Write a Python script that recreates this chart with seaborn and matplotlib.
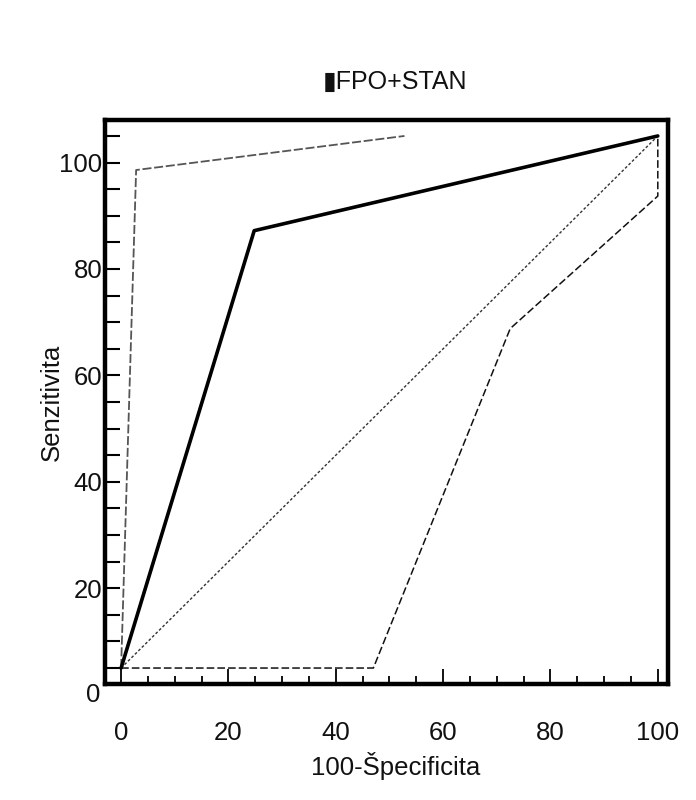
import numpy as np
import pandas as pd
import matplotlib
matplotlib.use("Agg")
import matplotlib.pyplot as plt
import matplotlib.transforms as mtransforms
from matplotlib.ticker import FixedLocator, MultipleLocator
import seaborn as sns

# ---- data ----
roc_x = [0, 24.8, 100]
roc_y = [5, 87.2, 105]
upper_x = [0, 2.8, 52.8]
upper_y = [5, 98.6, 105]
lower_x = [0, 47, 72.5, 100, 100]
lower_y = [5, 5, 68.8, 93.7, 105]
diag_x = [0, 100]
diag_y = [5, 105]
x_ticks = [0, 20, 40, 60, 80, 100]
y_ticks = [20, 40, 60, 80, 100]
title = "\u25aeFPO+STAN"
x_label = "100-Špecificita"
y_label = "Senzitivita"

sns.set_style("white")
plt.rcParams["font.family"] = ["Liberation Sans", "DejaVu Sans"]
plt.rcParams["text.color"] = "#111111"
plt.rcParams["axes.labelcolor"] = "#111111"
plt.rcParams["xtick.color"] = "#111111"
plt.rcParams["ytick.color"] = "#111111"

fig = plt.figure(figsize=(6.96, 8.0), dpi=100)
ax = fig.add_axes([105 / 696, (800 - 684) / 800, (668 - 105) / 696, (684 - 120) / 800])

sns.lineplot(x=diag_x, y=diag_y, sort=False, estimator=None, ax=ax,
             color="#333333", linewidth=1.0, linestyle=(0, (2, 1.5)))
sns.lineplot(x=upper_x, y=upper_y, sort=False, estimator=None, ax=ax,
             color="#555555", linewidth=1.3, linestyle=(0, (5, 1.5)))
sns.lineplot(x=lower_x, y=lower_y, sort=False, estimator=None, ax=ax,
             color="#111111", linewidth=1.1, linestyle=(0, (5, 2)))
sns.lineplot(x=roc_x, y=roc_y, sort=False, estimator=None, ax=ax,
             color="black", linewidth=2.6)

ax.set_xlim(-3, 101.9)
ax.set_ylim(2.0, 108)

ax.xaxis.set_major_locator(FixedLocator(x_ticks))
ax.xaxis.set_minor_locator(MultipleLocator(5))
ax.yaxis.set_major_locator(FixedLocator(y_ticks))
ax.yaxis.set_minor_locator(MultipleLocator(5))

ax.tick_params(axis="x", which="major", direction="in", length=10.5, width=1.3,
               pad=27, labelsize=18.5, bottom=True, top=False, color="black",
               labelcolor="#111111")
ax.tick_params(axis="x", which="minor", direction="in", length=5.5, width=1.3,
               bottom=True, top=False, color="black")
ax.tick_params(axis="y", which="both", direction="in", length=10.5, width=1.5,
               pad=2, labelsize=18.5, left=True, right=False, color="black",
               labelcolor="#111111")

for s in ax.spines.values():
    s.set_linewidth(3.2)
    s.set_color("black")

trans = mtransforms.blended_transform_factory(ax.transAxes, ax.transData)
ax.text(-0.009, 0, "0", transform=trans, ha="right", va="center",
        fontsize=18.5, color="#111111", clip_on=False)

ax.set_title(title, fontsize=18, pad=22, x=0.515, color="#111111")
ax.set_xlabel(x_label, fontsize=18.5)
ax.set_ylabel(y_label, fontsize=18.5)
ax.xaxis.set_label_coords(0.517, -0.12)
ax.yaxis.set_label_coords(-0.073, 0.5)

fig.savefig("out.png", dpi=100)
